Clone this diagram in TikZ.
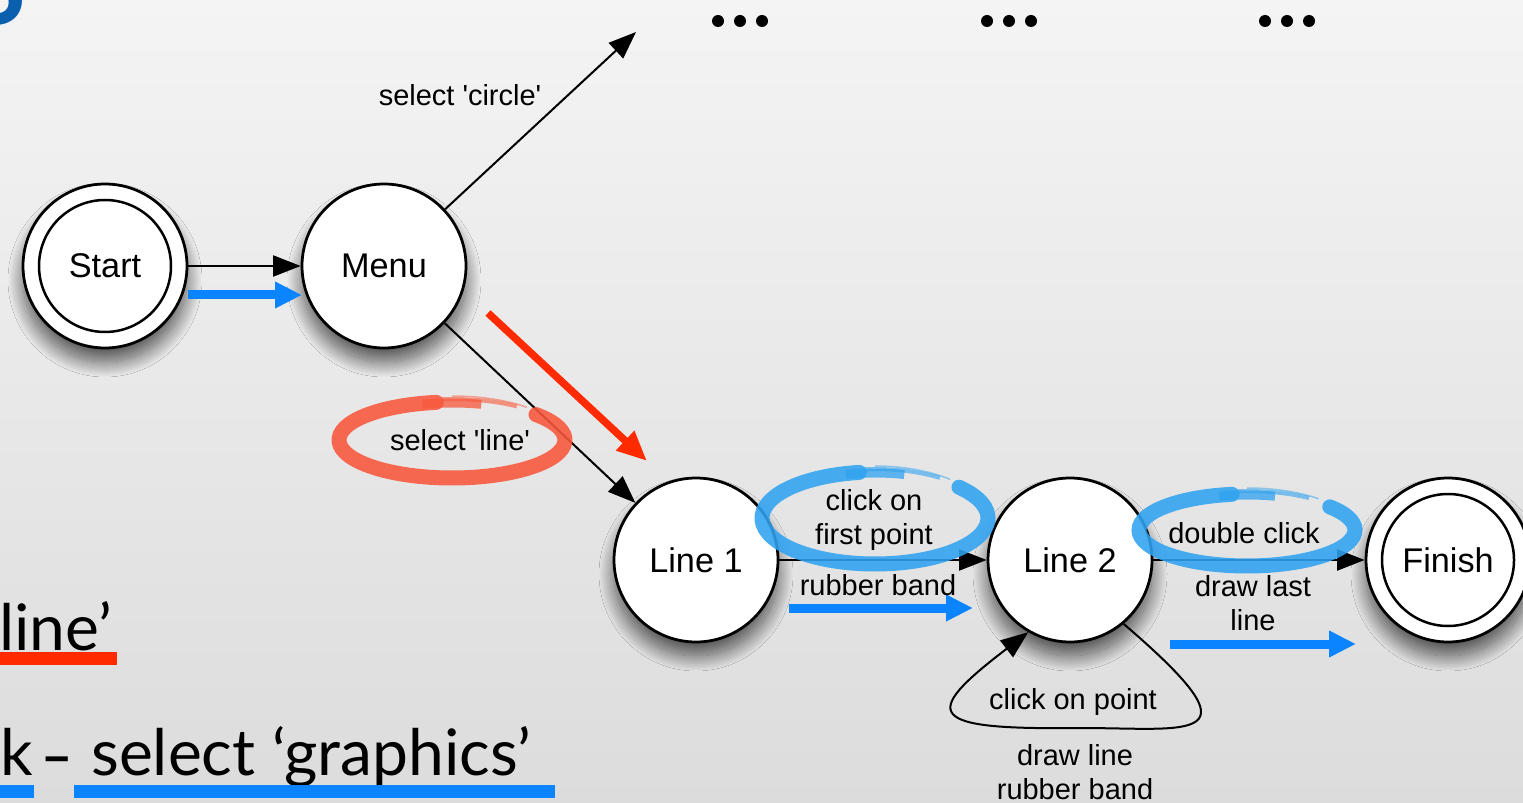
\documentclass[tikz,border=0pt]{standalone}
\usepackage{fontspec}
\setmainfont{Liberation Sans}
\newfontfamily\slidefont{Lato}
\usetikzlibrary{arrows.meta,shadows.blur,calc}
\definecolor{bgtop}{HTML}{F4F4F4}
\definecolor{bgbot}{HTML}{DCDCDC}
\definecolor{arrblue}{HTML}{0A84FF}
\definecolor{arrred}{HTML}{FF2A00}
\definecolor{brushred}{HTML}{F8573B}
\definecolor{brushblue}{HTML}{2FA2F0}
\definecolor{titleblue}{HTML}{0A5FAF}
\newcommand\sq{\textquotesingle}
\begin{document}
\begin{tikzpicture}[x=0.02cm,y=-0.02cm,
  state/.style={circle, draw=black, line width=0.055cm, fill=white, minimum size=3.28cm, inner sep=0pt,
    font=\fontsize{19.5}{23}\selectfont,
    blur shadow={shadow xshift=0cm, shadow yshift=-0.28cm, shadow blur radius=0.3cm, shadow blur steps=30, shadow opacity=65}},
  inner/.style={line width=0.05cm, draw=black},
  lbl/.style={font=\fontsize{16.5}{19.4}\selectfont, align=center, inner sep=0pt},
  tr/.style={-{Triangle[length=0.55cm,width=0.42cm]}, line width=0.04cm, draw=black},
  bluearr/.style={-{Triangle[length=0.54cm,width=0.5cm]}, line width=0.18cm, draw=arrblue},
  redarr/.style={-{Triangle[length=0.6cm,width=0.5cm]}, line width=0.15cm, draw=arrred},
  brush/.style={line width=0.3cm, line cap=round, opacity=0.88},
  slide/.style={font=\slidefont\fontsize{36.5}{44}\selectfont, inner sep=0pt}
]
\useasboundingbox (0,0) rectangle (1523,803);
\shade[top color=bgtop, bottom color=bgbot] (0,0) rectangle (1523,803);

% slide text
\node[slide, text=titleblue, font=\slidefont\bfseries\fontsize{60}{60}\selectfont, anchor=south east] (title) at (27,26) {S};
\node[slide, anchor=base west] (t1) at (-1,650) {line’};
\node[slide, anchor=base west] (t2k) at (0,775) {k};
\node[slide, anchor=base, xscale=1.4] (t2d) at (57,778) {-};
\node[slide, anchor=base west] (t2) at (91,775) {select ‘graphics’};
\fill[arrred] (0,652) rectangle (117,665);
\fill[arrblue] (0,785) rectangle (34,798);
\fill[arrblue] (74,785) rectangle (555,798);

% dots
\foreach \x in {718,740,762,987,1009,1031,1265,1287,1309} \fill (\x,21) circle[radius=6];

% states
\node[state] (s) at (105,266) {Start};
\draw[inner] (s.center) circle[radius=66];
\node[state] (m) at (384,266) {Menu};
\node[state] (l1) at (696,560) {Line 1};
\node[state] (l2) at (1070,560) {Line 2};
\node[state] (f) at (1448,560) {Finish};
\draw[inner] (f.center) circle[radius=66];

% coordinates
\coordinate (top) at (636,32);
\coordinate (b1s) at (188,295); \coordinate (b1e) at (302,295);
\coordinate (r1s) at (488,313); \coordinate (r1e) at (647,461);
\coordinate (b2s) at (789,608); \coordinate (b2e) at (973,608);
\coordinate (b3s) at (1170,644); \coordinate (b3e) at (1356,644);

% connectors
\draw[tr] (s) -- (m);
\draw[bluearr] (b1s) -- (b1e);
\draw[tr] (m) -- (top);
\draw[tr] (m) -- (l1);
\draw[redarr] (r1s) -- (r1e);
\draw[tr] (l1) -- (l2);
\draw[bluearr] (b2s) -- (b2e);
\draw[tr] (l2) -- (f);
\draw[bluearr] (b3s) -- (b3e);
\draw[tr] (l2.-50) .. controls (1265,745) and (1190,728) .. (1080,728) .. controls (925,730) and (920,715) .. (l2.-120);

% brush ellipses
\coordinate (e1) at (452,440);
\draw[brush, draw=brushred] (e1) ++(-42:113 and 38) arc[start angle=-42, end angle=262, x radius=113, y radius=38];
\draw[line width=0.18cm, draw=brushred, opacity=0.75] (e1) ++(255:113 and 37) arc[start angle=255, end angle=285, x radius=113, y radius=37];
\draw[line width=0.08cm, draw=brushred, opacity=0.6] (e1) ++(265:113 and 41) arc[start angle=265, end angle=305, x radius=113, y radius=41];
\draw[line width=0.03cm, draw=brushred, opacity=0.5] (e1) ++(270:112 and 44) arc[start angle=270, end angle=312, x radius=112, y radius=44];

\coordinate (e2) at (875,518);
\draw[brush, draw=brushblue] (e2) ++(-42:113 and 46) arc[start angle=-42, end angle=262, x radius=113, y radius=46];
\draw[line width=0.18cm, draw=brushblue, opacity=0.75] (e2) ++(255:113 and 45) arc[start angle=255, end angle=285, x radius=113, y radius=45];
\draw[line width=0.08cm, draw=brushblue, opacity=0.6] (e2) ++(265:113 and 49) arc[start angle=265, end angle=305, x radius=113, y radius=49];
\draw[line width=0.03cm, draw=brushblue, opacity=0.5] (e2) ++(270:112 and 52) arc[start angle=270, end angle=312, x radius=112, y radius=52];

\coordinate (e3) at (1247,530);
\draw[brush, draw=brushblue] (e3) ++(-40:108 and 36) arc[start angle=-40, end angle=262, x radius=108, y radius=36];
\draw[line width=0.18cm, draw=brushblue, opacity=0.75] (e3) ++(255:108 and 35) arc[start angle=255, end angle=285, x radius=108, y radius=35];
\draw[line width=0.08cm, draw=brushblue, opacity=0.6] (e3) ++(265:108 and 39) arc[start angle=265, end angle=305, x radius=108, y radius=39];
\draw[line width=0.03cm, draw=brushblue, opacity=0.5] (e3) ++(270:107 and 42) arc[start angle=270, end angle=312, x radius=107, y radius=42];

% labels
\node[lbl] (lc) at (460,95) {select \sq circle\sq};
\node[lbl] (ll) at (460,440) {select \sq line\sq};
\node[lbl] (lf) at (874,520) {click on\\first point};
\node[lbl] (lr) at (878,585) {rubber band};
\node[lbl] (ld) at (1244,533) {double click};
\node[lbl] (lw) at (1253,603) {draw last\\line};
\node[lbl] (lp) at (1073,702) {click on point};
\node[lbl] (lq) at (1075,772) {draw line\\rubber band};
\end{tikzpicture}
\end{document}
